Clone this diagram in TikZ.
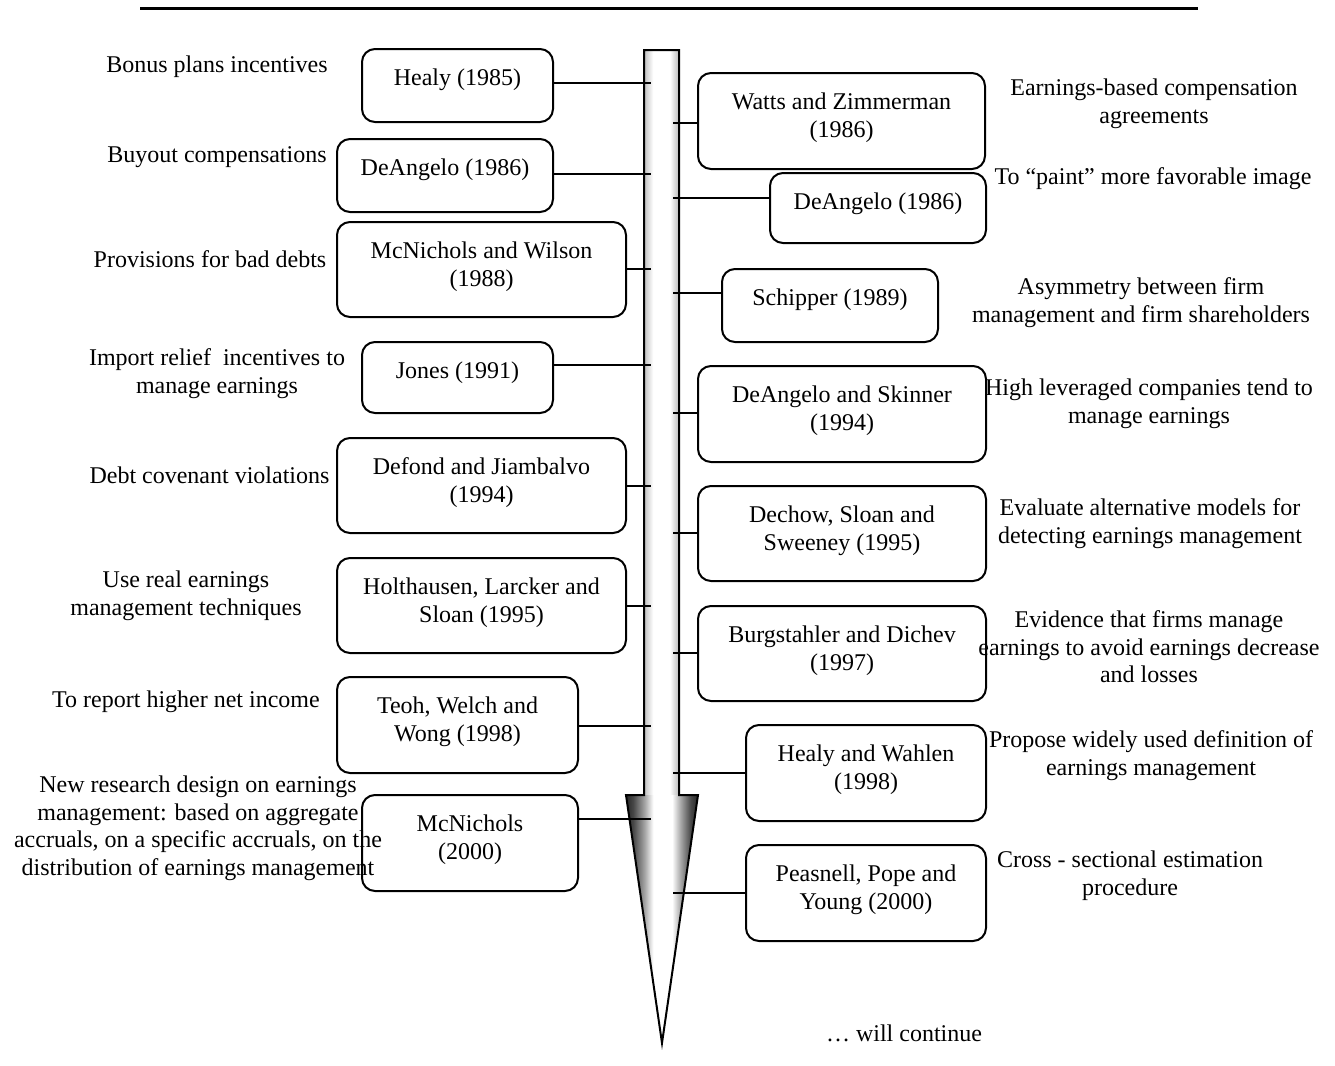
\documentclass[tikz,border=0pt]{standalone}
\usepackage{fontspec}
\setmainfont{Liberation Serif}

% horizontal shadings for the shaft and the head of the time arrow
\pgfdeclarehorizontalshading{shaftshade}{100bp}{color(0bp)=(gray!50); color(25bp)=(gray!50); color(38bp)=(white); color(62bp)=(white); color(75bp)=(gray!55); color(100bp)=(gray!55)}
\pgfdeclarehorizontalshading{headshade}{100bp}{color(0bp)=(black!85); color(25bp)=(black!85); color(30bp)=(black!72); color(38bp)=(black!35); color(44bp)=(white); color(57bp)=(white); color(63bp)=(black!35); color(70bp)=(black!72); color(75bp)=(black!85); color(100bp)=(black!85)}

\tikzset{
  tlframe/.style={draw, line width=1pt, rounded corners=6.5pt, inner sep=0pt, outer sep=0pt},
  boxtxt/.style={anchor=north, align=center, inner sep=0pt, font=\fontsize{12pt}{13.8pt}\selectfont},
  lbl/.style={anchor=north, align=center, inner sep=0pt, font=\fontsize{12pt}{13.8pt}\selectfont},
  conn/.style={line width=1pt},
}

% rounded study box: name, x1, y1, x2, y2, text
\newcommand{\tlbox}[6]{%
  \node[tlframe, minimum width={(#4-#2)*0.5pt}, minimum height={(#5-#3)*0.5pt}] (#1) at ({(#2+#4)/2},{(#3+#5)/2}) {};
  \node[boxtxt] (#1-t) at ([yshift=-8.34pt]#1.north) {\strut #6};
}

\begin{document}
\begin{tikzpicture}[x=0.5pt, y=-0.5pt]
\useasboundingbox (0,0) rectangle (1335,1066);

% rule across the top
\coordinate (ruleL) at (140,8);
\coordinate (ruleR) at (1198,8);
\draw[line width=1.5pt] (ruleL) -- (ruleR);

% time arrow
\shade[shading=shaftshade] (644,50) rectangle (679,795);
\shade[shading=headshade] (626,795) -- (698,795) -- (662,1043) -- cycle;
\draw[line width=1pt, line join=miter] (644,795) -- (644,50) -- (679,50) -- (679,795)
  -- (698,795) -- (662,1043) -- (626,795) -- cycle;

% studies on the left
\tlbox{hly}{362}{49}{553}{122}{Healy (1985)}
\tlbox{deaL}{337}{139}{553}{212}{DeAngelo (1986)}
\tlbox{mcw}{337}{222}{626}{317}{McNichols and Wilson\\(1988)}
\tlbox{jon}{362}{342}{553}{413}{Jones (1991)}
\tlbox{dfj}{337}{438}{626}{533}{Defond and Jiambalvo\\(1994)}
\tlbox{hls}{337}{558}{626}{653}{Holthausen, Larcker and\\Sloan (1995)}
\tlbox{twl}{337}{677}{578}{773}{Teoh, Welch and\\Wong (1998)}
\tlbox{mcn}{362}{795}{578}{891}{McNichols\\(2000)}

% studies on the right
\tlbox{wz}{698}{73}{985}{169}{Watts and Zimmerman\\(1986)}
\tlbox{deaR}{770}{173}{986}{243}{DeAngelo (1986)}
\tlbox{sch}{722}{269}{938}{342}{Schipper (1989)}
\tlbox{das}{698}{366}{986}{462}{DeAngelo and Skinner\\(1994)}
\tlbox{dss}{698}{486}{986}{581}{Dechow, Sloan and\\Sweeney (1995)}
\tlbox{bd}{698}{606}{986}{701}{Burgstahler and Dichev\\(1997)}
\tlbox{hw}{746}{725}{986}{821}{Healy and Wahlen\\(1998)}
\tlbox{ppy}{746}{845}{986}{941}{Peasnell, Pope and\\Young (2000)}

% points on the arrow where the studies attach
\coordinate (hly-s) at (651,83);
\coordinate (deaL-s) at (651,174);
\coordinate (mcw-s) at (651,269);
\coordinate (jon-s) at (651,365);
\coordinate (dfj-s) at (651,486);
\coordinate (hls-s) at (651,606);
\coordinate (twl-s) at (651,726);
\coordinate (mcn-s) at (651,819);
\coordinate (wz-s) at (673,123);
\coordinate (deaR-s) at (673,198);
\coordinate (sch-s) at (673,293);
\coordinate (das-s) at (673,413);
\coordinate (dss-s) at (673,533);
\coordinate (bd-s) at (673,653);
\coordinate (hw-s) at (673,773);
\coordinate (ppy-s) at (673,893);

\foreach \b in {hly,deaL,mcw,jon,dfj,hls,twl,mcn}
  \draw[conn] (\b.east |- \b-s) -- (\b-s);
\foreach \b in {wz,deaR,sch,das,dss,bd,hw,ppy}
  \draw[conn] (\b-s) -- (\b.west |- \b-s);

% motives on the left
\node[lbl] (m1) at (217,53) {\strut Bonus plans incentives};
\node[lbl] (m2) at (217,143) {\strut Buyout compensations};
\node[lbl] (m3) at (210,248) {\strut Provisions for bad debts};
\node[lbl] (m4) at (217,346) {\strut Import relief~ incentives to\\manage earnings};
\node[lbl] (m5) at (209.5,464) {\strut Debt covenant violations};
\node[lbl] (m6) at (186,568) {\strut Use real earnings\\management techniques};
\node[lbl] (m7) at (186,688) {\strut To report higher net income};
\node[lbl] (m8) at (198,773) {\strut New research design on earnings\\management: based on aggregate\\accruals, on a specific accruals, on the\\distribution of earnings management};

% findings on the right
\node[lbl] (f1) at (1154,76) {\strut Earnings-based compensation\\agreements};
\node[lbl] (f2) at (1153,165) {\strut To “paint” more favorable image};
\node[lbl] (f3) at (1141,275) {\strut Asymmetry between firm\\management and firm shareholders};
\node[lbl] (f4) at (1149,376) {\strut High leveraged companies tend to\\manage earnings};
\node[lbl] (f5) at (1150,496) {\strut Evaluate alternative models for\\detecting earnings management};
\node[lbl] (f6) at (1149,608) {\strut Evidence that firms manage\\earnings to avoid earnings decrease\\and losses};
\node[lbl] (f7) at (1151,728) {\strut Propose widely used definition of\\earnings management};
\node[lbl] (f8) at (1130,848) {\strut Cross - sectional estimation\\procedure};
\node[lbl] (cont) at (904,1022) {\strut … will continue};

\end{tikzpicture}
\end{document}
